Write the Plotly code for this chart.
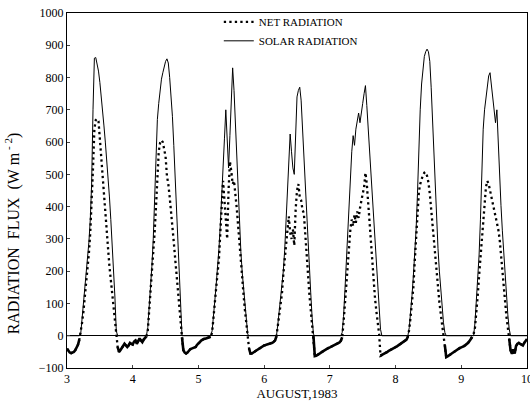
import numpy as np
import plotly.graph_objects as go

# ---- data: half-hourly values (00:00 ... 23:30) for each day of August 1983 ----
days = [3, 4, 5, 6, 7, 8, 9]
half_hour_steps = 48

net_aug3 = [-40, -48, -52, -54, -53, -50, -45, -38, -28, -12,
            10, 40, 75, 115, 155, 200, 255, 320, 400, 520,
            640, 668, 672, 665, 610, 550, 480, 420, 370, 320,
            270, 215, 170, 130, 95, 55, 10, -35, -50, -45,
            -38, -32, -25, -30, -35, -30, -22, -25]
net_aug4 = [-27, -18, -15, -25, -15, -8, -15, -20, -12, -5,
            -2, 15, 70, 125, 200, 255, 320, 400, 510, 570,
            598, 606, 600, 580, 555, 495, 470, 430, 390, 345,
            290, 240, 185, 135, 85, 40, -5, -45, -52, -55,
            -52, -45, -42, -40, -38, -38, -35, -28]
net_aug5 = [-25, -20, -15, -12, -10, -9, -8, -7, -6, -3,
            10, 50, 105, 150, 195, 240, 320, 400, 480, 420,
            370, 300, 450, 540, 510, 470, 480, 445, 395, 341,
            280, 228, 175, 125, 78, 43, 5, -40, -55, -55,
            -52, -50, -47, -44, -41, -38, -35, -32]
net_aug6 = [-30, -29, -28, -27, -26, -24, -22, -19, -14, -2,
            30, 60, 90, 130, 190, 230, 270, 330, 370, 320,
            300, 330, 280, 390, 450, 470, 430, 420, 390, 380,
            310, 250, 180, 130, 83, 40, 0, -63, -62, -60,
            -57, -54, -51, -48, -45, -42, -40, -38]
net_aug7 = [-36, -34, -32, -30, -28, -26, -24, -21, -16, -5,
            40, 100, 160, 220, 275, 330, 360, 340, 375, 350,
            385, 365, 395, 425, 440, 460, 505, 470, 405, 345,
            285, 220, 165, 115, 75, 35, 5, -62, -60, -58,
            -55, -52, -50, -47, -45, -42, -40, -37]
net_aug8 = [-35, -33, -30, -27, -25, -23, -20, -17, -12, -3,
            20, 60, 100, 150, 230, 310, 400, 445, 470, 485,
            498, 505, 507, 495, 475, 440, 390, 340, 290, 240,
            190, 140, 104, 68, 35, 5, -30, -66, -64, -62,
            -58, -55, -52, -48, -45, -43, -40, -38]
net_aug9 = [-36, -35, -32, -29, -26, -22, -16, -10, -4, 5,
            25, 65, 124, 185, 245, 300, 350, 420, 460, 480,
            470, 450, 430, 410, 395, 380, 360, 330, 300, 248,
            195, 145, 100, 58, 25, -10, -45, -56, -42, -55,
            -32, -25, -22, -25, -28, -30, -22, -15]
net_aug10_midnight = -10

solar_aug3 = [0, 0, 0, 0, 0, 0, 0, 0, 0, 0,
              5, 50, 95, 140, 185, 230, 290, 360, 470, 700,
              860, 862, 845, 820, 785, 745, 700, 650, 600, 550,
              495, 430, 360, 285, 210, 120, 15, 0, 0, 0,
              0, 0, 0, 0, 0, 0, 0, 0]
solar_aug4 = [0, 0, 0, 0, 0, 0, 0, 0, 0, 0,
              0, 25, 80, 140, 215, 300, 420, 600, 670, 720,
              760, 795, 815, 835, 850, 858, 845, 800, 750, 680,
              590, 500, 410, 300, 200, 90, 0, 0, 0, 0,
              0, 0, 0, 0, 0, 0, 0, 0]
solar_aug5 = [0, 0, 0, 0, 0, 0, 0, 0, 0, 0,
              15, 55, 110, 160, 210, 270, 345, 420, 510, 610,
              700, 600, 520, 620, 740, 830, 760, 660, 530, 434,
              345, 260, 195, 145, 85, 43, 5, 0, 0, 0,
              0, 0, 0, 0, 0, 0, 0, 0]
solar_aug6 = [0, 0, 0, 0, 0, 0, 0, 0, 0, 0,
              35, 75, 110, 150, 200, 265, 360, 455, 540, 625,
              570, 520, 500, 620, 740, 760, 770, 730, 640, 540,
              450, 360, 280, 210, 135, 60, 5, 0, 0, 0,
              0, 0, 0, 0, 0, 0, 0, 0]
solar_aug7 = [0, 0, 0, 0, 0, 0, 0, 0, 0, 10,
              60, 140, 230, 320, 410, 500, 570, 620, 590, 640,
              660, 690, 660, 700, 720, 750, 775, 713, 640, 580,
              500, 420, 360, 290, 215, 150, 85, 20, 0, 0,
              0, 0, 0, 0, 0, 0, 0, 0]
solar_aug8 = [0, 0, 0, 0, 0, 0, 0, 0, 0, 0,
              25, 70, 125, 185, 250, 330, 440, 590, 700, 780,
              830, 865, 880, 888, 880, 850, 770, 660, 550, 440,
              350, 270, 200, 135, 80, 40, 10, 0, 0, 0,
              0, 0, 0, 0, 0, 0, 0, 0]
solar_aug9 = [0, 0, 0, 0, 0, 0, 0, 0, 0, 0,
              40, 100, 170, 250, 360, 500, 640, 700, 740, 775,
              805, 815, 780, 744, 710, 660, 700, 590, 490, 403,
              325, 255, 185, 120, 65, 21, 0, 0, 0, 0,
              0, 0, 0, 0, 0, 0, 0, 0]
solar_aug10_midnight = 0

x_ticks = [3, 4, 5, 6, 7, 8, 9, 10]
y_ticks = [-100, 0, 100, 200, 300, 400, 500, 600, 700, 800, 900, 1000]

# ---- assemble series ----
net_days = [net_aug3, net_aug4, net_aug5, net_aug6, net_aug7, net_aug8, net_aug9]
solar_days = [solar_aug3, solar_aug4, solar_aug5, solar_aug6, solar_aug7, solar_aug8, solar_aug9]

frac = np.arange(half_hour_steps) / half_hour_steps
t = np.concatenate([d + frac for d in days] + [np.array([10.0])])
net = np.array(sum(net_days, []) + [net_aug10_midnight], dtype=float)
solar = np.array(sum(solar_days, []) + [solar_aug10_midnight], dtype=float)
net_night = np.where(net <= 0, net, np.nan)

serif = "Liberation Serif, Times New Roman, serif"

fig = go.Figure()
fig.add_trace(go.Scatter(
    x=t, y=net_night, mode="lines", showlegend=False, hoverinfo="skip",
    line=dict(color="black", width=2.6)))
fig.add_trace(go.Scatter(
    x=t, y=net, mode="lines", name="NET RADIATION",
    line=dict(color="black", width=2.3, dash="2.3px,3.2px")))
fig.add_trace(go.Scatter(
    x=t, y=solar, mode="lines", name="SOLAR RADIATION",
    line=dict(color="black", width=1)))

fig.update_layout(
    width=530, height=402,
    margin=dict(l=67, r=3, t=13, b=34, autoexpand=False),
    paper_bgcolor="white", plot_bgcolor="white",
    font=dict(family=serif, size=12, color="black"),
    legend=dict(x=0.330, y=1.016, xanchor="left", yanchor="top",
                bgcolor="rgba(0,0,0,0)", font=dict(size=11, family=serif)),
    annotations=[dict(
        text="RADIATION  FLUX  (W m<sup> - 2</sup>)", textangle=-90,
        xref="paper", yref="paper", x=-0.119, y=0.38,
        xanchor="center", yanchor="middle", showarrow=False,
        font=dict(size=16, family=serif))],
)
fig.update_xaxes(
    range=[3, 10], tickvals=x_ticks, ticks="inside", ticklen=3,
    showline=True, mirror=True, linecolor="black", linewidth=1,
    showgrid=False, zeroline=False, ticklabeloverflow="allow", automargin=False,
    title=dict(text="AUGUST,1983", font=dict(size=13, family=serif), standoff=0),
    tickfont=dict(size=12, family=serif))
fig.update_yaxes(
    range=[-100, 1000], tickvals=y_ticks, ticks="inside", ticklen=3,
    showline=True, mirror=True, linecolor="black", linewidth=1, automargin=False,
    showgrid=False, zeroline=True, zerolinecolor="black", zerolinewidth=1,
    tickfont=dict(size=12, family=serif))

fig.write_html("out.html")
